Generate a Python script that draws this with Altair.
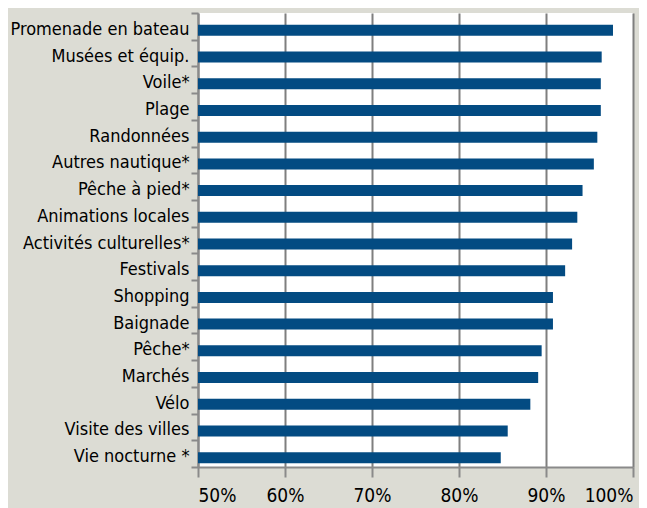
import altair as alt
import pandas as pd

categories = [
    "Promenade en bateau", "Musées et équip.", "Voile*", "Plage", "Randonnées",
    "Autres nautique*", "Pêche à pied*", "Animations locales", "Activités culturelles*",
    "Festivals", "Shopping", "Baignade", "Pêche*", "Marchés", "Vélo",
    "Visite des villes", "Vie nocturne *",
]
values = [97.7, 96.4, 96.3, 96.3, 95.9, 95.5, 94.2, 93.6, 93.0, 92.2, 90.8, 90.8,
          89.5, 89.1, 88.2, 85.6, 84.8]
x_ticks = [50, 60, 70, 80, 90, 100]

df = pd.DataFrame({"cat": categories, "val": values})

FONT = "Liberation Sans Narrow, DejaVu Sans Condensed, Roboto, sans-serif"

bars = alt.Chart(df).mark_bar(size=11, color="#034b82", yOffset=4).encode(
    x=alt.X("val:Q",
            scale=alt.Scale(domain=[50, 100], zero=False, nice=False, clamp=True),
            axis=alt.Axis(values=x_ticks, labelExpr="datum.value + '%'", title=None,
                          grid=True, gridColor="#7f7f7f", gridWidth=2,
                          domainColor="#8a8a8a", domainWidth=2,
                          tickColor="#8a8a8a", tickWidth=2, tickSize=10,
                          labelFont=FONT, labelFontSize=19, labelColor="#000000",
                          labelPadding=9)),
    y=alt.Y("cat:N", sort=categories,
            scale=alt.Scale(paddingInner=0, paddingOuter=0),
            axis=alt.Axis(title=None, tickBand="extent",
                          domainColor="#8a8a8a", domainWidth=2,
                          tickColor="#8a8a8a", tickWidth=2, tickSize=7,
                          labelFont=FONT, labelFontSize=18, labelColor="#000000",
                          labelPadding=2, labelOffset=3, labelLimit=300)),
)

chart = bars.properties(
    width=435, height=454,
    background="#dcdcd4",
    padding={"left": 190, "top": 5, "right": 6, "bottom": 41},
    autosize=alt.AutoSizeParams(type="none"),
).configure_view(fill="white", stroke=None)

chart.save("out.html", embed_options={"renderer": "svg", "actions": False})
